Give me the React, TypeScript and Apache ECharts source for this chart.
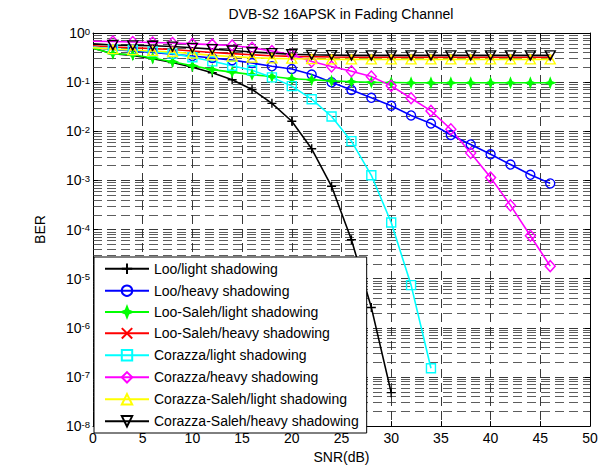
import React, { useEffect, useRef } from 'react';
import * as echarts from 'echarts';

// SNR points (dB)
const snr = [0, 2, 4, 6, 8, 10, 12, 14, 16, 18, 20, 22, 24, 26, 28, 30, 32, 34, 36, 38, 40, 42, 44, 46];

// BER readings per series (aligned with snr from 0 dB)
const looLight = [0.49, 0.38, 0.35, 0.30, 0.25, 0.20, 0.155, 0.112, 0.071, 0.037, 0.016, 0.0044, 7.6e-4, 6.2e-5, 2.6e-6, 4.8e-8];
const looHeavy = [0.50, 0.46, 0.43, 0.40, 0.37, 0.34, 0.31, 0.28, 0.245, 0.21, 0.185, 0.143, 0.10, 0.069, 0.048, 0.033, 0.021, 0.0144, 0.0084, 0.0054, 0.0034, 0.0021, 0.0013, 8.7e-4];
const looSalehLight = [0.49, 0.38, 0.36, 0.31, 0.26, 0.216, 0.18, 0.16, 0.142, 0.13, 0.117, 0.112, 0.106, 0.102, 0.099, 0.098, 0.097, 0.097, 0.097, 0.097, 0.097, 0.097, 0.097, 0.097];
const looSalehHeavy = [0.55, 0.52, 0.50, 0.48, 0.46, 0.43, 0.40, 0.38, 0.36, 0.345, 0.335, 0.33, 0.325, 0.322, 0.32, 0.32, 0.32, 0.32, 0.32, 0.32, 0.32, 0.32, 0.32, 0.32];
const corazzaLight = [0.52, 0.47, 0.45, 0.42, 0.38, 0.32, 0.265, 0.216, 0.174, 0.125, 0.083, 0.045, 0.020, 0.0063, 0.00127, 1.39e-4, 7.4e-6, 1.5e-7];
const corazzaHeavy = [0.68, 0.67, 0.655, 0.64, 0.625, 0.60, 0.58, 0.555, 0.50, 0.43, 0.36, 0.264, 0.209, 0.167, 0.130, 0.084, 0.047, 0.026, 0.011, 0.0036, 1.14e-3, 3.1e-4, 7.5e-5, 1.8e-5];
const corazzaSalehLight = [0.50, 0.47, 0.45, 0.43, 0.41, 0.38, 0.35, 0.33, 0.315, 0.305, 0.30, 0.295, 0.29, 0.29, 0.29, 0.29, 0.29, 0.29, 0.29, 0.29, 0.29, 0.29, 0.29, 0.29];
const corazzaSalehHeavy = [0.60, 0.57, 0.56, 0.55, 0.53, 0.50, 0.47, 0.44, 0.41, 0.39, 0.37, 0.36, 0.355, 0.35, 0.35, 0.35, 0.35, 0.35, 0.35, 0.35, 0.35, 0.35, 0.35, 0.35];

const seriesNames = [
  'Loo/light shadowing',
  'Loo/heavy shadowing',
  'Loo-Saleh/light shadowing',
  'Loo-Saleh/heavy shadowing',
  'Corazza/light shadowing',
  'Corazza/heavy shadowing',
  'Corazza-Saleh/light shadowing',
  'Corazza-Saleh/heavy shadowing',
];
const seriesValues = [looLight, looHeavy, looSalehLight, looSalehHeavy, corazzaLight, corazzaHeavy, corazzaSalehLight, corazzaSalehHeavy];
const seriesColors = ['#000000', '#0000ff', '#00ff00', '#ff0000', '#00ffff', '#ff00ff', '#ffff00', '#000000'];

const xTicks = { min: 0, max: 50, interval: 5 };
const yDecades = [-8, -7, -6, -5, -4, -3, -2, -1];
const minorMultipliers = [2, 3, 4, 5, 6, 7, 8, 9];

const FONT = 'Liberation Sans, Arial, Helvetica, sans-serif';

const SYM_PLUS = 'path://M0,5L10,5M5,0L5,10';
const SYM_X = 'path://M0,0L10,10M10,0L0,10';
const SYM_STAR = 'path://M5,0L6.4,3.6L10,5L6.4,6.4L5,10L3.6,6.4L0,5L3.6,3.6Z';
const SYM_TRI_DOWN = 'path://M0,0L10,0L5,8.66Z';
const SYM_TRI_UP = 'path://M5,0L10,8.66L0,8.66Z';

const markerDefs: any[] = [
  { symbol: SYM_PLUS, size: 9, fill: 'none' },
  { symbol: 'circle', size: 9, fill: 'none' },
  { symbol: SYM_STAR, size: 9, fill: '#00ff00' },
  { symbol: SYM_X, size: 5, fill: 'none' },
  { symbol: 'rect', size: 9, fill: 'none' },
  { symbol: 'diamond', size: [10, 11], fill: 'none' },
  { symbol: SYM_TRI_UP, size: [10, 9], fill: 'none' },
  { symbol: SYM_TRI_DOWN, size: [10, 9], fill: 'none' },
];

export default function App() {
  const ref = useRef<HTMLDivElement>(null);
  useEffect(() => {
    if (!ref.current) return;
    const chart = echarts.init(ref.current, null, { renderer: 'svg' });

    const minorLines: any[] = [];
    yDecades.forEach((d) => {
      minorMultipliers.forEach((m) => minorLines.push({ yAxis: m * Math.pow(10, d) }));
    });

    const gridDash = { type: [9, 5], color: '#222', width: 0.9 };

    const series: any[] = seriesNames.map((name, si) => {
      const vals = seriesValues[si];
      const mk = markerDefs[si];
      const data = vals.map((v, i) => (i === 0 ? { value: [snr[i], v], symbol: 'none' } : [snr[i], v]));
      const s: any = {
        name,
        type: 'line',
        data,
        symbol: mk.symbol,
        symbolSize: mk.size,
        showAllSymbol: true,
        lineStyle: { color: seriesColors[si], width: 1.6 },
        itemStyle: { color: mk.fill, borderColor: seriesColors[si], borderWidth: 1.4 },
        emphasis: { disabled: true },
        z: 3,
      };
      if (si === 0) {
        s.markLine = {
          silent: true,
          precision: 12,
          symbol: ['none', 'none'],
          label: { show: false },
          lineStyle: { type: [9, 5], color: '#333', width: 0.8 },
          data: minorLines,
          z: 1,
        };
      }
      return s;
    });

    const yLabelFmt = (v: number) => {
      const e = Math.round(Math.log10(v));
      return `{b|10}{s|${e}}`;
    };

    chart.setOption({
      animation: false,
      backgroundColor: '#ffffff',
      textStyle: { fontFamily: FONT },
      graphic: [
        {
          type: 'text',
          x: 341,
          y: 14,
          style: {
            text: 'DVB-S2 16APSK in Fading Channel',
            font: `14px ${FONT}`,
            fill: '#000',
            textAlign: 'center',
            textVerticalAlign: 'middle',
          },
        },
      ],
      grid: { left: 93, right: 17, top: 33, bottom: 39, containLabel: false },
      legend: {
        data: seriesNames,
        orient: 'vertical',
        left: 94,
        top: 257,
        padding: [4, 8, 4, 10],
        itemWidth: 44,
        itemHeight: 13,
        itemGap: 6.6,
        backgroundColor: '#ffffff',
        borderColor: '#000',
        borderWidth: 1,
        selectedMode: false,
        textStyle: { fontSize: 14, color: '#000', fontFamily: FONT },
        z: 10,
      },
      xAxis: [
        {
          type: 'value',
          min: xTicks.min,
          max: xTicks.max,
          interval: xTicks.interval,
          name: 'SNR(dB)',
          nameLocation: 'middle',
          nameGap: 23,
          nameTextStyle: { fontSize: 14, color: '#000', fontFamily: FONT },
          axisLine: { show: true, onZero: false, lineStyle: { color: '#000', width: 1 } },
          axisTick: { show: true, inside: true, length: 5, lineStyle: { color: '#000' } },
          axisLabel: { fontSize: 14, color: '#000', margin: 5, fontFamily: FONT, showMinLabel: true, showMaxLabel: true },
          splitLine: { show: true, lineStyle: gridDash },
        },
        {
          type: 'value',
          position: 'top',
          min: xTicks.min,
          max: xTicks.max,
          interval: xTicks.interval,
          axisLine: { show: true, onZero: false, lineStyle: { color: '#000', width: 1 } },
          axisTick: { show: true, inside: true, length: 5, lineStyle: { color: '#000' } },
          axisLabel: { show: false },
          splitLine: { show: false },
        },
      ],
      yAxis: [
        {
          type: 'log',
          logBase: 10,
          min: 1e-8,
          max: 1,
          interval: 1,
          name: 'BER',
          nameLocation: 'middle',
          nameGap: 46,
          nameRotate: 90,
          nameTextStyle: { fontSize: 14, color: '#000', fontFamily: FONT },
          axisLine: { show: true, onZero: false, lineStyle: { color: '#000', width: 1 } },
          axisTick: { show: true, inside: true, length: 5, lineStyle: { color: '#000' } },
          axisLabel: {
            margin: 3,
            color: '#000',
            formatter: yLabelFmt,
            showMinLabel: true,
            showMaxLabel: true,
            rich: {
              b: { fontSize: 14, lineHeight: 14, padding: [6, 0, 0, 0], verticalAlign: 'bottom', color: '#000', fontFamily: FONT },
              s: { fontSize: 9.5, lineHeight: 10, verticalAlign: 'top', color: '#000', fontFamily: FONT },
            },
          },
          splitLine: { show: true, lineStyle: gridDash },
        },
        {
          type: 'log',
          logBase: 10,
          min: 1e-8,
          max: 1,
          interval: 1,
          position: 'right',
          axisLine: { show: true, onZero: false, lineStyle: { color: '#000', width: 1 } },
          axisTick: { show: true, inside: true, length: 5, lineStyle: { color: '#000' } },
          axisLabel: { show: false },
          splitLine: { show: false },
        },
      ],
      series,
    });
    return () => chart.dispose();
  }, []);
  return <div ref={ref} style={{ position: 'fixed', left: 0, top: 0, width: 607, height: 469 }} />;
}
